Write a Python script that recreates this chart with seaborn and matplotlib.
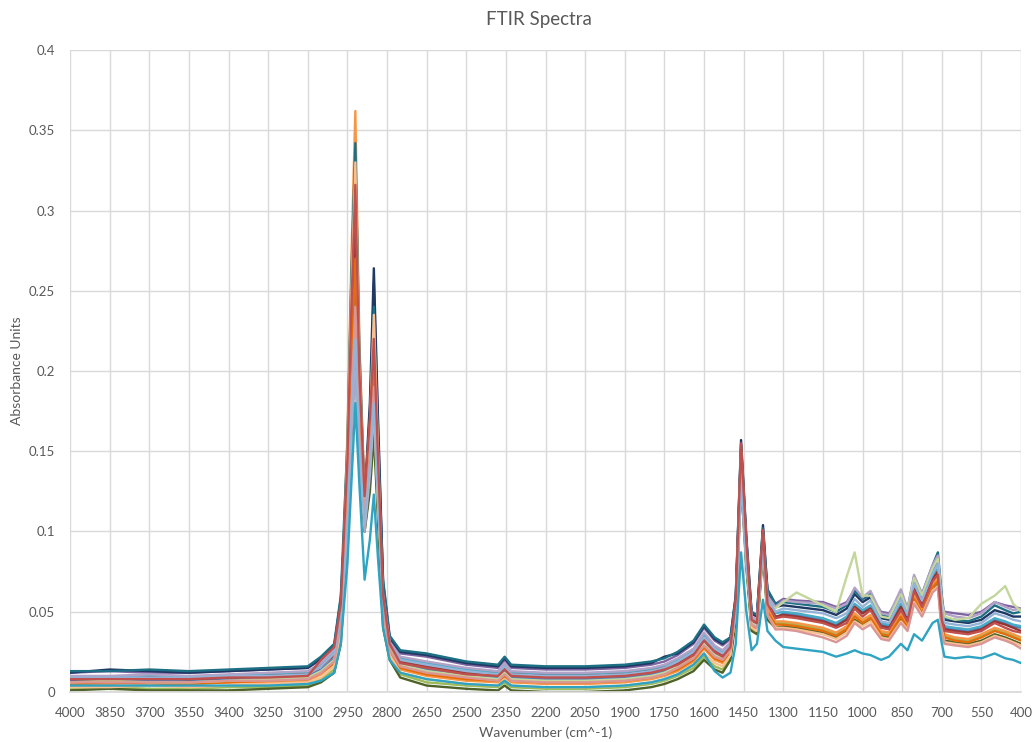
import matplotlib
matplotlib.use("Agg")
import matplotlib.pyplot as plt
import pandas as pd
import seaborn as sns

# Wavenumber positions (cm^-1) shared by every spectrum, high to low
wavenumber = [
    4000, 3850, 3700, 3550, 3400, 3250, 3100,
    3050, 3000, 2975, 2950, 2935, 2920, 2905, 2885, 2865, 2850, 2835, 2815, 2790,
    2750, 2650, 2500, 2380, 2355, 2330, 2200, 2050, 1900, 1800, 1750, 1700, 1640, 1600, 1560, 1530,
    1500, 1480, 1460, 1440, 1420, 1400, 1377, 1360, 1330,
    1300, 1250, 1150, 1100, 1060, 1030, 1000, 970, 930, 900, 855, 830, 805, 775, 735, 715,
    700, 690, 650, 600, 550, 500, 460, 430, 400,
]

# Absorbance of each sample at the positions above
spec_01 = [.007, .008, .007, .007, .008, .009, .010,
           .014, .021, .045, .138, .228, .300, .190, .115, .165, .230, .155, .055, .028,
           .018, .014, .011, .009, .013, .009, .008, .008, .009, .011, .013, .017, .023, .031, .024, .022,
           .027, .055, .148, .090, .044, .042, .098, .055, .046,
           .049, .048, .045, .042, .046, .054, .050, .053, .042, .041, .054, .045, .065, .054, .071, .076,
           .048, .040, .039, .038, .040, .045, .043, .041, .040]
spec_02 = [.002, .003, .002, .002, .003, .003, .004,
           .008, .014, .035, .100, .170, .225, .150, .100, .130, .170, .115, .045, .022,
           .011, .006, .004, .003, .006, .003, .002, .002, .003, .005, .007, .010, .015, .022, .016, .014,
           .022, .048, .135, .080, .039, .037, .090, .047, .043,
           .043, .042, .039, .036, .040, .048, .044, .047, .037, .036, .048, .041, .059, .050, .066, .070,
           .042, .035, .033, .032, .035, .039, .037, .035, .033]
spec_03 = [.012, .013, .012, .012, .013, .014, .015,
           .020, .028, .055, .120, .200, .260, .170, .100, .160, .255, .170, .065, .033,
           .024, .022, .017, .015, .020, .015, .014, .014, .015, .017, .019, .023, .030, .040, .032, .029,
           .033, .057, .145, .088, .049, .047, .097, .063, .055,
           .058, .057, .056, .053, .056, .064, .058, .060, .050, .049, .060, .052, .068, .058, .072, .076,
           .054, .050, .049, .048, .050, .056, .054, .053, .052]
spec_04 = [.005, .005, .006, .005, .006, .006, .007,
           .011, .018, .042, .160, .270, .362, .220, .120, .175, .250, .165, .052, .025,
           .014, .010, .007, .006, .009, .006, .005, .005, .006, .008, .010, .013, .019, .027, .020, .018,
           .025, .056, .152, .092, .042, .040, .100, .052, .044,
           .044, .043, .040, .037, .041, .049, .045, .048, .038, .037, .049, .042, .060, .051, .067, .071,
           .043, .036, .034, .033, .036, .040, .038, .036, .034]
spec_05 = [.012, .014, .013, .012, .013, .014, .015,
           .021, .029, .058, .135, .220, .290, .190, .120, .180, .264, .175, .068, .034,
           .025, .023, .018, .016, .021, .016, .015, .015, .016, .018, .022, .024, .031, .041, .033, .030,
           .034, .060, .157, .097, .049, .047, .104, .063, .053,
           .054, .053, .051, .048, .052, .061, .056, .059, .046, .045, .060, .049, .070, .059, .076, .082,
           .053, .045, .044, .043, .045, .051, .049, .047, .047]
spec_06 = [.009, .009, .010, .009, .010, .011, .012,
           .017, .025, .050, .115, .190, .250, .165, .110, .150, .200, .135, .060, .030,
           .021, .018, .014, .012, .017, .012, .011, .011, .012, .014, .016, .020, .026, .035, .028, .025,
           .030, .052, .140, .085, .046, .044, .095, .058, .049,
           .050, .049, .046, .043, .047, .055, .051, .054, .043, .042, .055, .046, .066, .055, .072, .077,
           .049, .041, .040, .039, .041, .046, .044, .042, .041]
spec_07 = [.008, .008, .009, .008, .009, .010, .011,
           .016, .023, .048, .130, .215, .280, .180, .118, .160, .215, .145, .058, .029,
           .019, .016, .012, .011, .015, .011, .010, .010, .011, .013, .015, .018, .024, .033, .026, .023,
           .028, .055, .150, .091, .045, .043, .099, .056, .047,
           .048, .047, .044, .041, .045, .053, .049, .052, .041, .040, .053, .045, .064, .054, .070, .075,
           .047, .039, .038, .037, .039, .044, .042, .040, .038]
spec_08 = [.001, .002, .001, .001, .001, .002, .003,
           .006, .012, .030, .095, .160, .210, .140, .100, .125, .160, .110, .040, .020,
           .009, .004, .002, .001, .004, .001, .000, .000, .001, .003, .005, .008, .013, .020, .014, .012,
           .020, .045, .130, .078, .038, .036, .088, .045, .040,
           .041, .040, .037, .034, .038, .045, .042, .045, .035, .034, .045, .039, .057, .048, .064, .067,
           .040, .032, .031, .030, .032, .036, .034, .032, .030]
spec_09 = [.005, .006, .005, .005, .006, .007, .008,
           .012, .018, .040, .125, .205, .270, .175, .110, .150, .200, .135, .050, .025,
           .015, .011, .008, .007, .010, .007, .006, .006, .007, .009, .011, .014, .020, .028, .021, .019,
           .025, .050, .140, .084, .041, .039, .094, .050, .042,
           .042, .041, .038, .035, .039, .047, .043, .046, .036, .035, .047, .040, .058, .049, .065, .069,
           .041, .034, .032, .031, .034, .038, .036, .034, .032]
spec_10 = [.013, .013, .014, .013, .014, .015, .016,
           .022, .030, .060, .155, .260, .342, .215, .120, .170, .240, .160, .070, .035,
           .026, .024, .019, .017, .022, .017, .016, .016, .017, .019, .021, .025, .032, .042, .034, .031,
           .034, .060, .154, .095, .050, .048, .102, .064, .055,
           .056, .055, .053, .050, .054, .063, .058, .061, .048, .047, .063, .051, .072, .061, .079, .087,
           .060, .046, .045, .044, .047, .054, .051, .049, .050]
spec_11 = [.010, .010, .011, .010, .011, .012, .013,
           .018, .026, .050, .095, .160, .200, .145, .100, .135, .175, .120, .060, .031,
           .022, .019, .015, .013, .018, .013, .012, .012, .013, .015, .017, .021, .027, .037, .029, .026,
           .031, .050, .130, .080, .047, .045, .090, .060, .053,
           .057, .056, .055, .052, .055, .065, .059, .063, .049, .048, .064, .052, .073, .061, .079, .085,
           .057, .049, .047, .046, .049, .056, .053, .051, .052]
spec_12 = [.006, .007, .006, .006, .007, .008, .009,
           .013, .020, .044, .105, .175, .230, .155, .105, .140, .180, .120, .054, .027,
           .017, .013, .010, .008, .012, .008, .007, .007, .008, .010, .012, .016, .022, .030, .023, .021,
           .026, .050, .138, .083, .043, .041, .092, .055, .052,
           .056, .062, .054, .050, .072, .087, .060, .060, .047, .046, .061, .050, .071, .060, .077, .083,
           .055, .047, .045, .046, .055, .060, .066, .055, .050]
spec_13 = [.003, .003, .004, .003, .004, .005, .006,
           .009, .016, .038, .150, .250, .330, .205, .118, .165, .235, .155, .048, .023,
           .012, .008, .005, .004, .008, .004, .003, .003, .004, .006, .008, .011, .017, .024, .018, .016,
           .023, .052, .150, .090, .040, .038, .098, .048, .040,
           .040, .039, .036, .033, .037, .044, .041, .044, .034, .033, .044, .039, .056, .048, .063, .066,
           .039, .031, .030, .029, .031, .035, .033, .031, .029]
spec_14 = [.006, .006, .006, .006, .007, .007, .008,
           .012, .019, .042, .110, .180, .240, .160, .110, .145, .190, .130, .050, .026,
           .016, .012, .009, .007, .011, .007, .006, .006, .007, .009, .011, .015, .021, .029, .022, .020,
           .026, .050, .140, .084, .042, .040, .093, .048, .039,
           .039, .038, .034, .031, .035, .043, .039, .042, .033, .032, .043, .038, .055, .047, .062, .065,
           .037, .030, .029, .028, .030, .034, .032, .030, .027]
spec_15 = [.009, .009, .009, .009, .010, .010, .011,
           .016, .024, .048, .100, .170, .220, .150, .105, .140, .180, .125, .058, .030,
           .020, .017, .013, .011, .016, .011, .010, .010, .011, .013, .015, .019, .025, .034, .027, .024,
           .029, .050, .135, .082, .046, .044, .090, .058, .050,
           .052, .051, .049, .046, .049, .058, .053, .057, .044, .043, .058, .048, .068, .057, .074, .080,
           .051, .043, .042, .041, .043, .049, .047, .045, .044]
spec_16 = [.004, .004, .004, .004, .004, .004, .005,
           .007, .012, .030, .080, .130, .180, .130, .070, .095, .123, .085, .040, .020,
           .012, .008, .005, .004, .007, .004, .003, .003, .004, .006, .008, .011, .017, .024, .013, .009,
           .012, .030, .087, .050, .026, .030, .0575, .038, .032,
           .028, .027, .025, .022, .024, .026, .024, .023, .020, .022, .030, .026, .036, .032, .043, .045,
           .030, .022, .021, .022, .021, .024, .021, .020, .018]
spec_17 = [.008, .008, .008, .008, .009, .009, .010,
           .020, .028, .055, .145, .240, .316, .200, .122, .170, .220, .150, .060, .030,
           .018, .015, .011, .010, .014, .010, .009, .009, .010, .012, .014, .017, .023, .032, .025, .022,
           .028, .058, .155, .094, .045, .043, .101, .055, .046,
           .047, .046, .043, .040, .043, .052, .047, .051, .040, .039, .051, .044, .063, .053, .069, .073,
           .045, .038, .037, .036, .038, .043, .040, .038, .037]

spectra = [spec_01, spec_02, spec_03, spec_04, spec_05, spec_06, spec_07, spec_08, spec_09,
           spec_10, spec_11, spec_12, spec_13, spec_14, spec_15, spec_16, spec_17]
sample_names = [f"Sample {i + 1}" for i in range(len(spectra))]
line_colors = ["#4F81BD", "#9BBB59", "#8064A2", "#F79646", "#1F3864", "#4BACC6",
               "#943634", "#4F6228", "#E46C0A", "#1D7084", "#B3A2C7", "#C3D69B",
               "#FAC090", "#D99694", "#95B3D7", "#2FA3C2", "#C0504D"]

x_ticks = list(range(4000, 399, -150))
y_ticks = [0, 0.05, 0.1, 0.15, 0.2, 0.25, 0.3, 0.35, 0.4]
y_tick_labels = ["0", "0.05", "0.1", "0.15", "0.2", "0.25", "0.3", "0.35", "0.4"]

frames = []
for name, values in zip(sample_names, spectra):
    frames.append(pd.DataFrame({"wavenumber": wavenumber, "absorbance": values, "sample": name}))
data = pd.concat(frames, ignore_index=True)

sns.set_theme(style="white")
plt.rcParams["font.family"] = ["Lato", "DejaVu Sans"]

fig = plt.figure(figsize=(10.36, 7.42), dpi=100)
ax = fig.add_axes([0.0676, 0.0674, 0.9180, 0.8652])

sns.lineplot(data=data, x="wavenumber", y="absorbance", hue="sample",
             hue_order=sample_names, palette=line_colors, sort=False,
             estimator=None, legend=False, linewidth=1.7, ax=ax)

ax.set_xlim(4000, 400)
ax.set_ylim(0, 0.4)
ax.set_xticks(x_ticks)
ax.set_xticklabels([str(t) for t in x_ticks])
ax.set_yticks(y_ticks)
ax.set_yticklabels(y_tick_labels)
ax.grid(True, color="#D9D9D9", linewidth=1.0)
ax.set_axisbelow(True)
for side in ["top", "right", "left"]:
    ax.spines[side].set_visible(False)
ax.spines["bottom"].set_color("#D9D9D9")
ax.tick_params(axis="both", length=0, labelsize=9.5, labelcolor="#595959")
ax.tick_params(axis="x", pad=11)
ax.tick_params(axis="y", pad=11)

ax.set_xlabel("Wavenumber (cm^-1)", fontsize=10, color="#595959", labelpad=5)
ax.set_ylabel("Absorbance Units", fontsize=10, color="#595959", labelpad=4)
fig.suptitle("FTIR Spectra", x=0.52, y=0.985, fontsize=13.5, color="#595959")

fig.savefig("out.png", dpi=100)
